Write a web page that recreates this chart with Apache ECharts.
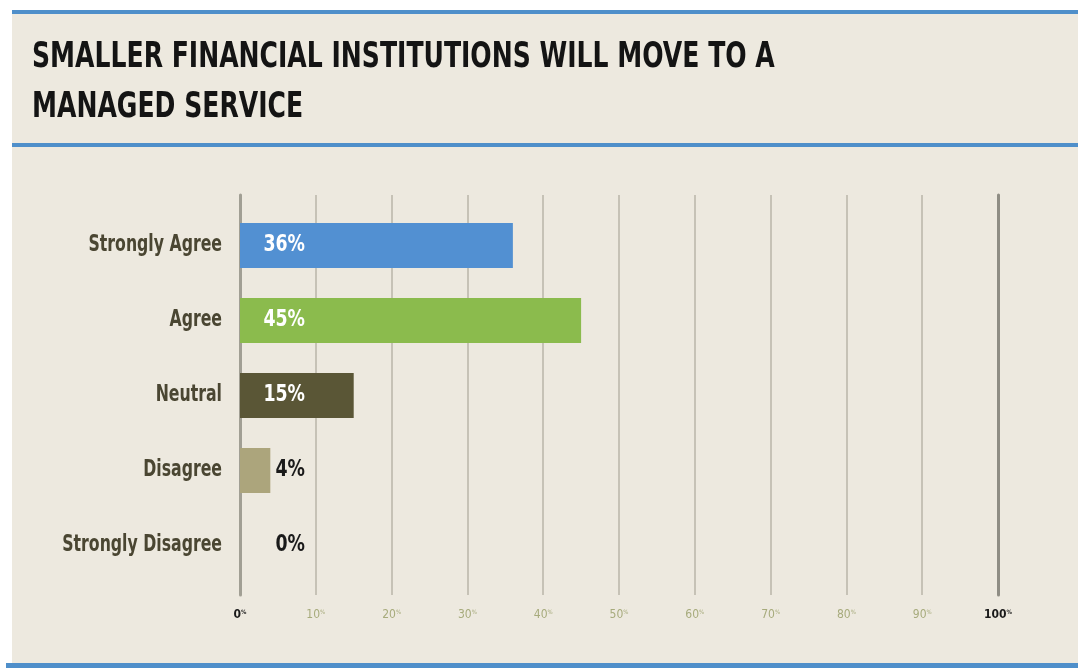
<!DOCTYPE html>
<html>
<head>
<meta charset="utf-8">
<title>Smaller Financial Institutions Will Move to a Managed Service</title>
<script src="https://cdn.jsdelivr.net/npm/echarts@6/dist/echarts.min.js"></script>
<style>
  html, body { margin: 0; padding: 0; background: #ffffff; }
  #chart { width: 1078px; height: 669px; }
</style>
</head>
<body>
<div id="chart"></div>
<script>
// Survey responses (share of respondents, %)
const categories = ['Strongly Agree', 'Agree', 'Neutral', 'Disagree', 'Strongly Disagree'];
const values = [36, 45, 15, 4, 0];
const titleLines = ['SMALLER FINANCIAL INSTITUTIONS WILL MOVE TO A', 'MANAGED SERVICE'];

const barColors = ['#5290d2', '#8bbb4d', '#5a5636', '#aca57c', '#aca57c'];
const labelColors = ['#ffffff', '#ffffff', '#ffffff', '#1a1a1a', '#1a1a1a'];

const FONT = '"DejaVu Sans Condensed", "DejaVu Sans", sans-serif';
const PANEL = '#ede9df';
const BLUE = '#4f8fca';
// horizontal squeeze giving the narrow display lettering
const NARROW = 0.76;

const chart = echarts.init(document.getElementById('chart'), null, { renderer: 'canvas' });

const barData = values.map((v, i) => ({ value: v, itemStyle: { color: barColors[i] } }));
// one point per category, anchored on the zero line
const anchorData = categories.map((c, i) => [0, i]);

const plotLeft = 240, plotRight = 80;

chart.setOption({
  backgroundColor: '#ffffff',
  animation: false,
  graphic: [
    { type: 'rect', z: -10, shape: { x: 12, y: 10, width: 1066, height: 657 }, style: { fill: PANEL } },
    { type: 'rect', z: -5, shape: { x: 12, y: 10, width: 1066, height: 4 }, style: { fill: BLUE } },
    { type: 'rect', z: -5, shape: { x: 12, y: 143, width: 1066, height: 4 }, style: { fill: BLUE } },
    { type: 'rect', z: -5, shape: { x: 6, y: 663, width: 1072, height: 5 }, style: { fill: BLUE } },
    {
      type: 'text', z: 10, x: 32, y: 33, scaleX: 0.775,
      style: {
        text: titleLines.join('\n'),
        font: 'bold 36px ' + FONT,
        lineHeight: 50,
        fill: '#141414',
        align: 'left',
        verticalAlign: 'top'
      }
    }
  ],
  grid: [
    // bars
    { left: plotLeft, right: plotRight, top: 208, height: 375, containLabel: false },
    // reference lines and tick labels
    { left: plotLeft, right: plotRight, top: 195, height: 400, containLabel: false }
  ],
  xAxis: [
    {
      gridIndex: 0, type: 'value', min: 0, max: 100, interval: 10,
      axisLine: { show: false }, axisTick: { show: false },
      axisLabel: { show: false }, splitLine: { show: false }
    },
    {
      gridIndex: 1, type: 'value', min: 0, max: 100, interval: 10,
      axisLine: { show: false }, axisTick: { show: false },
      splitLine: { show: true, lineStyle: { color: '#b8b5a8', width: 1.5 } },
      axisLabel: {
        margin: 14,
        formatter: function (v) {
          const key = (v === 0 || v === 100) ? 'e' : 'm';
          return '{' + key + '|' + v + '}{' + key + 'p|%}';
        },
        rich: {
          e: { fontFamily: FONT, fontSize: 12, fontWeight: 'bold', color: '#1a1a1a' },
          ep: { fontFamily: FONT, fontSize: 6, fontWeight: 'bold', color: '#1a1a1a', padding: [0, 0, 5, 0] },
          m: { fontFamily: FONT, fontSize: 12, color: '#a7ab7c' },
          mp: { fontFamily: FONT, fontSize: 6, color: '#a7ab7c', padding: [0, 0, 5, 0] }
        }
      }
    }
  ],
  yAxis: [
    {
      gridIndex: 0, type: 'category', data: categories, inverse: true,
      axisLine: { show: false }, axisTick: { show: false },
      splitLine: { show: false }, axisLabel: { show: false }
    },
    {
      gridIndex: 1, type: 'value', min: 0, max: 1, position: 'left',
      axisLine: { show: true, lineStyle: { color: '#a19f94', width: 3 } },
      axisTick: { show: false }, axisLabel: { show: false }, splitLine: { show: false }
    },
    {
      gridIndex: 1, type: 'value', min: 0, max: 1, position: 'right',
      axisLine: { show: true, lineStyle: { color: '#8f8d84', width: 3 } },
      axisTick: { show: false }, axisLabel: { show: false }, splitLine: { show: false }
    }
  ],
  series: [
    {
      type: 'bar',
      xAxisIndex: 0,
      yAxisIndex: 0,
      data: barData,
      barWidth: 45,
      z: 5
    },
    {
      // category names, right-aligned left of the zero line
      type: 'custom',
      xAxisIndex: 0,
      yAxisIndex: 0,
      data: anchorData,
      z: 6,
      silent: true,
      renderItem: function (params, api) {
        const idx = api.value(1);
        const p = api.coord([0, idx]);
        return {
          type: 'text',
          x: p[0] - 18,
          y: p[1],
          scaleX: NARROW,
          style: {
            text: categories[idx],
            font: 'bold 23px ' + FONT,
            fill: '#4a4632',
            align: 'right',
            verticalAlign: 'middle'
          }
        };
      }
    },
    {
      // value labels, right-aligned at a fixed offset from the zero line
      type: 'custom',
      xAxisIndex: 0,
      yAxisIndex: 0,
      data: anchorData,
      z: 7,
      silent: true,
      renderItem: function (params, api) {
        const idx = api.value(1);
        const p = api.coord([0, idx]);
        return {
          type: 'text',
          x: p[0] + 65,
          y: p[1],
          scaleX: 0.84,
          style: {
            text: values[idx] + '%',
            font: 'bold 23px ' + FONT,
            fill: labelColors[idx],
            align: 'right',
            verticalAlign: 'middle'
          }
        };
      }
    }
  ]
});
</script>
</body>
</html>
